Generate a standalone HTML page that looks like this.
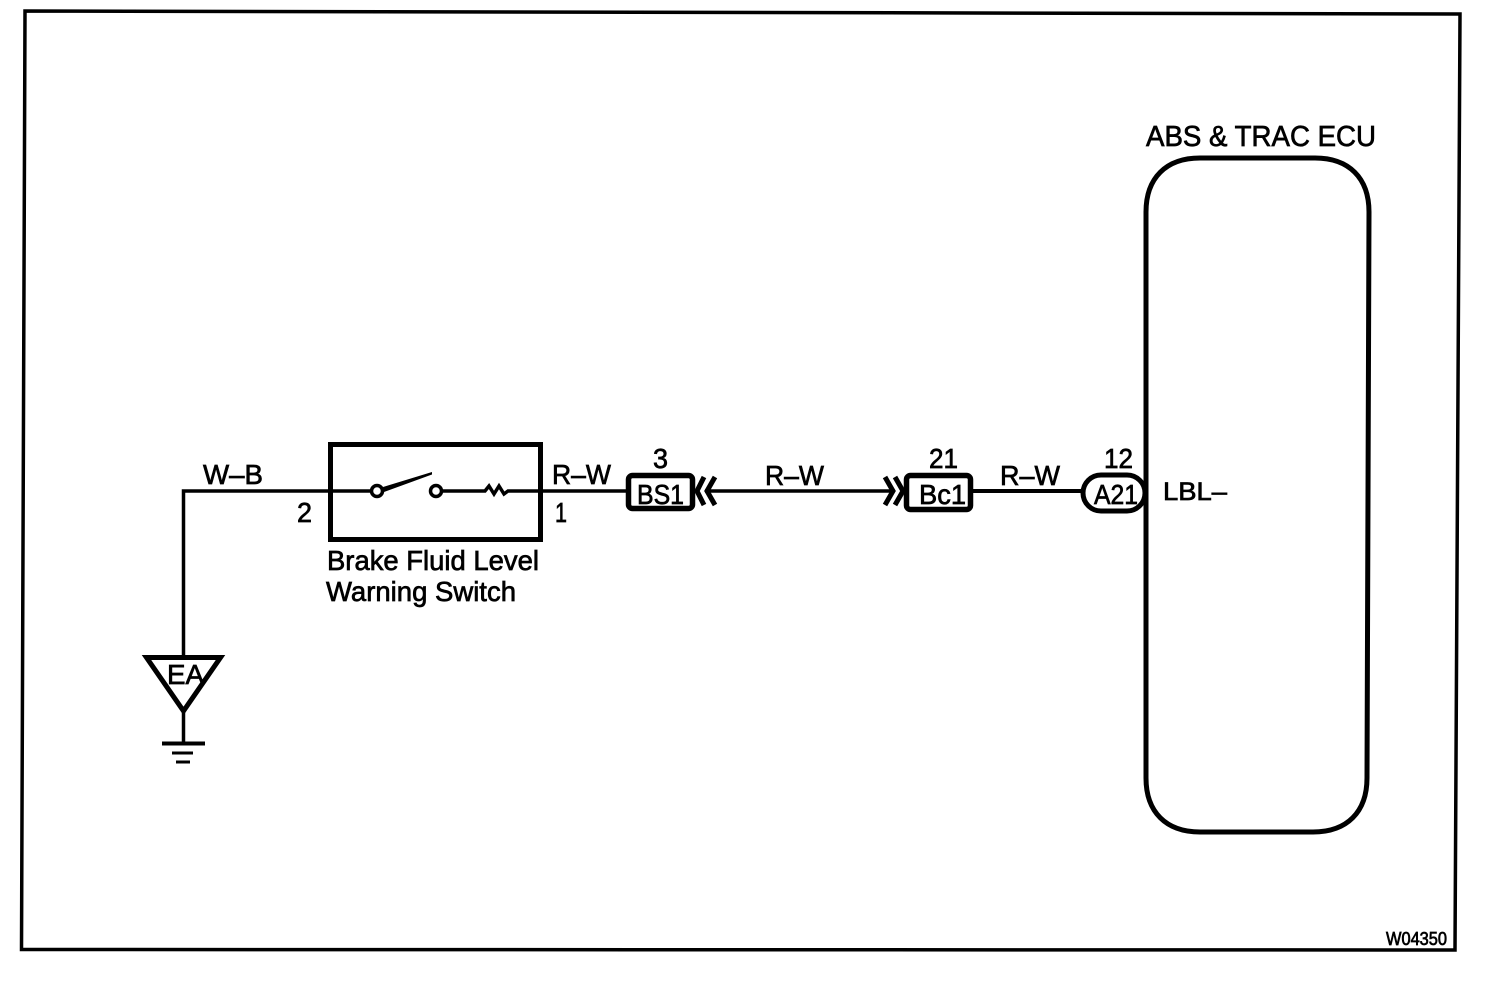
<!DOCTYPE html>
<html><head><meta charset="utf-8"><style>
html,body{margin:0;padding:0;background:#fff}
svg{display:block}
text{font-family:"Liberation Sans",sans-serif;fill:#000;stroke:#000;stroke-width:.7}
.l{fill:none;stroke:#000}
</style></head><body>
<svg width="1504" height="988" viewBox="0 0 1504 988" xmlns="http://www.w3.org/2000/svg">
<rect width="1504" height="988" fill="#fff"/>
<path class="l" stroke-width="3.500" d="M25 11 L1460 14 L1455 950 L21.500 949.500 Z"/>
<path class="l" stroke-width="5" d="M1146 212 C1146 178 1166 158 1200 158 L1315 158 C1349 158 1369 178 1369 212 L1367 778 C1367 812 1347 832 1313 832 L1200 832 C1166 832 1146 812 1146 778 Z"/>
<path class="l" stroke-width="3.500" d="M330 491 H183.500 V656"/>
<rect class="l" stroke-width="5" x="330.500" y="444.500" width="210" height="95"/>
<path class="l" stroke-width="3.500" d="M330 491 H371 M442 491 H481 L485 491 L489 486 L494 494 L499 486 L504 494 L508 491 H626"/>
<circle class="l" stroke-width="3.500" cx="377" cy="491" r="5.500"/>
<circle class="l" stroke-width="3.500" cx="436" cy="491" r="5.500"/>
<path d="M383 487 L432 472 L432 474.500 L384 492 Z" fill="#000"/>
<path class="l" stroke-width="5" stroke-linejoin="miter" d="M146.500 657.500 H220.500 L183.500 711 Z"/>
<path class="l" stroke-width="3.500" d="M183.500 712 V743"/>
<path class="l" stroke-width="4" d="M162 743.500 H205"/>
<path class="l" stroke-width="3" d="M172 753 H193 M176 762 H190"/>
<rect class="l" stroke-width="5.500" x="628.500" y="475.500" width="64" height="33" rx="4"/>
<path class="l" stroke-width="5" d="M704 477 L697 491 L704 505 M715 477 L707 491 L715 505"/>
<path class="l" stroke-width="3.500" d="M705 491 H892"/>
<path class="l" stroke-width="5" d="M885 477 L893 491 L885 505 M895 477 L903 491 L895 505"/>
<rect class="l" stroke-width="5.500" x="906.500" y="475.500" width="64" height="34" rx="4"/>
<path class="l" stroke-width="4" d="M972 491 H1083"/>
<rect class="l" stroke-width="5" x="1083" y="475" width="62" height="36" rx="18"/>
<g font-size="28">
<text x="1146" y="146" textLength="230" lengthAdjust="spacingAndGlyphs" font-size="29">ABS &amp; TRAC ECU</text>
<text x="203" y="484" textLength="60" lengthAdjust="spacingAndGlyphs">W–B</text>
<text x="297" y="522" textLength="15" lengthAdjust="spacingAndGlyphs">2</text>
<text x="327" y="570" textLength="212" lengthAdjust="spacingAndGlyphs">Brake Fluid Level</text>
<text x="326" y="601" textLength="190" lengthAdjust="spacingAndGlyphs">Warning Switch</text>
<text x="167" y="684" textLength="37" lengthAdjust="spacingAndGlyphs">EA</text>
<text x="552" y="484" textLength="59" lengthAdjust="spacingAndGlyphs">R–W</text>
<text x="555" y="522" textLength="12" lengthAdjust="spacingAndGlyphs">1</text>
<text x="653" y="468" textLength="15" lengthAdjust="spacingAndGlyphs">3</text>
<text x="637" y="504" textLength="47" lengthAdjust="spacingAndGlyphs">BS1</text>
<text x="765" y="485" textLength="59" lengthAdjust="spacingAndGlyphs">R–W</text>
<text x="929" y="468" textLength="29" lengthAdjust="spacingAndGlyphs">21</text>
<text x="919" y="504" textLength="47" lengthAdjust="spacingAndGlyphs">Bc1</text>
<text x="1000" y="485" textLength="60" lengthAdjust="spacingAndGlyphs">R–W</text>
<text x="1104" y="468" textLength="29" lengthAdjust="spacingAndGlyphs">12</text>
<text x="1094" y="504" textLength="44" lengthAdjust="spacingAndGlyphs">A21</text>
<text x="1163" y="500" textLength="64" lengthAdjust="spacingAndGlyphs" font-size="25">LBL–</text>
<text x="1386" y="945" textLength="61" lengthAdjust="spacingAndGlyphs" font-size="18">W04350</text>
</g>
</svg>
</body></html>
